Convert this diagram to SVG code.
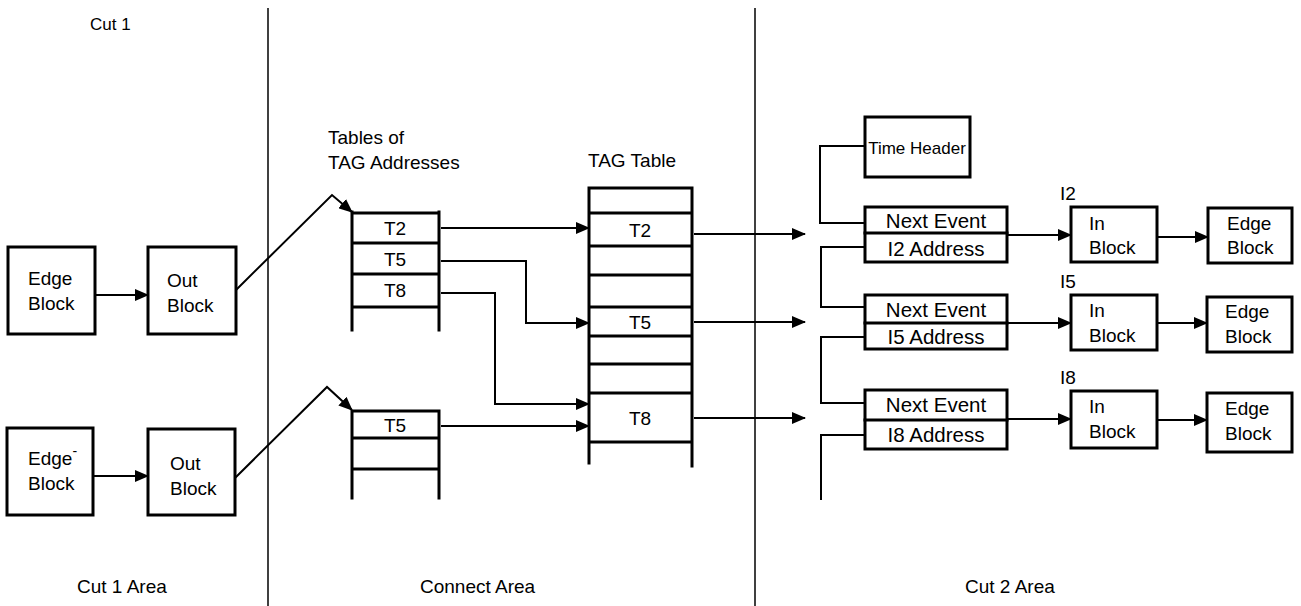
<svg xmlns="http://www.w3.org/2000/svg" width="1301" height="606" viewBox="0 0 1301 606">
<style>
text{font-family:"Liberation Sans",Arial,sans-serif;font-size:19px;fill:#000}
.c{text-anchor:middle}
.ev{font-size:20.5px}
.box{fill:#fff;stroke:#000;stroke-width:3}
.tl{fill:none;stroke:#000;stroke-width:3;stroke-linecap:square}
.ln{fill:none;stroke:#000;stroke-width:2}
.div{fill:none;stroke:#000;stroke-width:1.5}
</style>
<defs>
<marker id="ah" markerWidth="14" markerHeight="12" refX="13" refY="6" orient="auto" markerUnits="userSpaceOnUse"><path d="M0,0 L14,6 L0,12 z" fill="#000"/></marker>
</defs>
<rect width="1301" height="606" fill="#fff"/>
<g id="dividers">
<line class="div" x1="268" y1="8" x2="268" y2="606"/>
<line class="div" x1="755" y1="8" x2="755" y2="606"/>
</g>
<g id="labels">
<text x="90" y="30" style="font-size:17px">Cut 1</text>
<text x="77" y="593">Cut 1 Area</text>
<text x="420" y="593">Connect Area</text>
<text x="965" y="593">Cut 2 Area</text>
<text x="328" y="144">Tables of</text>
<text x="328" y="169">TAG Addresses</text>
<text x="588" y="167">TAG Table</text>
<text x="1060" y="200">I2</text>
<text x="1060" y="288">I5</text>
<text x="1060" y="384">I8</text>
</g>
<g id="connectors">
<line class="ln" x1="95" y1="295" x2="148" y2="295" marker-end="url(#ah)"/>
<line class="ln" x1="93" y1="476" x2="148" y2="476" marker-end="url(#ah)"/>
<polyline class="ln" points="236,290 332,195 352,212" marker-end="url(#ah)"/>
<polyline class="ln" points="235,478 327,387 352,410" marker-end="url(#ah)"/>
<line class="ln" x1="441" y1="228" x2="589" y2="228" marker-end="url(#ah)"/>
<polyline class="ln" points="441,261 526,261 526,323 589,323" marker-end="url(#ah)"/>
<polyline class="ln" points="441,293 495,293 495,404 589,404" marker-end="url(#ah)"/>
<line class="ln" x1="441" y1="426" x2="589" y2="426" marker-end="url(#ah)"/>
<line class="ln" x1="694" y1="234" x2="805" y2="234" marker-end="url(#ah)"/>
<line class="ln" x1="694" y1="322" x2="805" y2="322" marker-end="url(#ah)"/>
<line class="ln" x1="694" y1="418" x2="805" y2="418" marker-end="url(#ah)"/>
<polyline class="ln" points="865,146 820,146 820,223 865,223"/>
<polyline class="ln" points="865,247 821,247 821,307 865,307"/>
<polyline class="ln" points="865,337 821,337 821,403 865,403"/>
<polyline class="ln" points="865,435 821,435 821,500"/>
<line class="ln" x1="1008" y1="235" x2="1071" y2="235" marker-end="url(#ah)"/>
<line class="ln" x1="1008" y1="323" x2="1071" y2="323" marker-end="url(#ah)"/>
<line class="ln" x1="1008" y1="419" x2="1071" y2="419" marker-end="url(#ah)"/>
<line class="ln" x1="1157" y1="237" x2="1208" y2="237" marker-end="url(#ah)"/>
<line class="ln" x1="1157" y1="323" x2="1207" y2="323" marker-end="url(#ah)"/>
<line class="ln" x1="1157" y1="420" x2="1207" y2="420" marker-end="url(#ah)"/>
</g>
<g id="edge1">
<rect class="box" x="8" y="247" width="87" height="87"/>
<text x="28" y="285">Edge</text><text x="28" y="310">Block</text>
</g>
<g id="out1">
<rect class="box" x="148" y="247" width="88" height="87"/>
<text x="167" y="287">Out</text><text x="167" y="312">Block</text>
</g>
<g id="edge2">
<rect class="box" x="7" y="428" width="86" height="87"/>
<text x="28" y="465">Edge<tspan dy="-9" style="font-size:14px">-</tspan></text><text x="28" y="490">Block</text>
</g>
<g id="out2">
<rect class="box" x="148" y="429" width="87" height="86"/>
<text x="170" y="470">Out</text><text x="170" y="495">Block</text>
</g>
<g id="tagaddr1">
<path class="tl" d="M352,212 V330 M439,212 V330 M352,213 H439 M352,243 H439 M352,274 H439 M352,307 H439"/>
<text class="c" x="395" y="235">T2</text>
<text class="c" x="395" y="266">T5</text>
<text class="c" x="395" y="297">T8</text>
</g>
<g id="tagaddr2">
<path class="tl" d="M352,411 V498 M439,411 V498 M352,411 H439 M352,438 H439 M352,469 H439"/>
<text class="c" x="395" y="432">T5</text>
</g>
<g id="tagtable">
<path class="tl" d="M589,188 V463 M692,188 V466 M589,188 H692 M589,213 H692 M589,246 H692 M589,275 H692 M589,307 H692 M589,336 H692 M589,364 H692 M589,393 H692 M589,442 H692"/>
<text class="c" x="640" y="237">T2</text>
<text class="c" x="640" y="329">T5</text>
<text class="c" x="640" y="425">T8</text>
</g>
<g id="timeheader">
<rect class="box" x="865" y="117" width="105" height="60"/>
<text class="c" x="917" y="154" style="font-size:17px">Time Header</text>
</g>
<g id="event2">
<rect class="box" x="865" y="207" width="142" height="55"/>
<line class="tl" x1="865" y1="233" x2="1007" y2="233"/>
<text class="c ev" x="936" y="228">Next Event</text>
<text class="c ev" x="936" y="256">I2 Address</text>
</g>
<g id="event5">
<rect class="box" x="865" y="295" width="142" height="54"/>
<line class="tl" x1="865" y1="323" x2="1007" y2="323"/>
<text class="c ev" x="936" y="317">Next Event</text>
<text class="c ev" x="936" y="344">I5 Address</text>
</g>
<g id="event8">
<rect class="box" x="865" y="390" width="142" height="59"/>
<line class="tl" x1="865" y1="420" x2="1007" y2="420"/>
<text class="c ev" x="936" y="412">Next Event</text>
<text class="c ev" x="936" y="442">I8 Address</text>
</g>
<g id="in2">
<rect class="box" x="1071" y="207" width="86" height="55"/>
<text x="1089" y="230">In</text><text x="1089" y="254">Block</text>
</g>
<g id="edgeb2">
<rect class="box" x="1208" y="208" width="84" height="55"/>
<text x="1227" y="230">Edge</text><text x="1227" y="254">Block</text>
</g>
<g id="in5">
<rect class="box" x="1071" y="295" width="86" height="55"/>
<text x="1089" y="317">In</text><text x="1089" y="342">Block</text>
</g>
<g id="edgeb5">
<rect class="box" x="1207" y="297" width="85" height="55"/>
<text x="1225" y="318">Edge</text><text x="1225" y="343">Block</text>
</g>
<g id="in8">
<rect class="box" x="1071" y="391" width="86" height="57"/>
<text x="1089" y="413">In</text><text x="1089" y="438">Block</text>
</g>
<g id="edgeb8">
<rect class="box" x="1207" y="393" width="85" height="59"/>
<text x="1225" y="415">Edge</text><text x="1225" y="440">Block</text>
</g>
</svg>
